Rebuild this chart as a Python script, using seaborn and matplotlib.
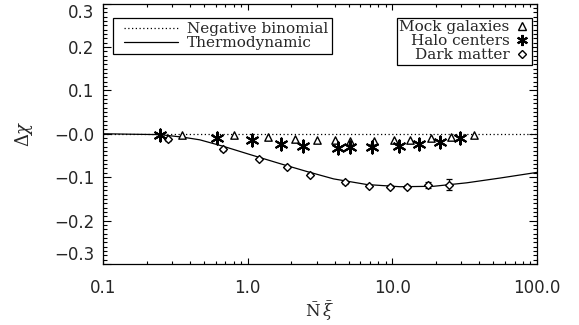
import numpy as np
import pandas as pd
import matplotlib
matplotlib.use("Agg")
import matplotlib.pyplot as plt
from matplotlib.lines import Line2D
from matplotlib.legend_handler import HandlerLine2D
from matplotlib.ticker import FixedLocator, FixedFormatter, LogLocator, NullFormatter, MultipleLocator
import seaborn as sns

# Negative binomial reference (flat at zero)
nb_x = [0.1, 100.0]
nb_y = [0.0, 0.0]

# Thermodynamic prediction
thermo_x = [0.1, 0.15, 0.248, 0.359, 0.467, 0.68, 1.04, 1.68, 2.57, 3.93, 6.68, 11.3, 19.3, 32.7, 55.6, 100.0]
thermo_y = [0.0, -0.001, -0.002, -0.008, -0.014, -0.029, -0.048, -0.069, -0.087, -0.104, -0.117, -0.122, -0.121, -0.113, -0.102, -0.089]

# Mock galaxies
mock_x = [0.35, 0.80, 1.39, 2.13, 3.01, 4.04, 5.07, 7.5, 10.3, 13.3, 18.5, 25.6, 36.5]
mock_y = [-0.003, -0.004, -0.008, -0.012, -0.015, -0.015, -0.017, -0.017, -0.015, -0.014, -0.010, -0.008, -0.002]

# Halo centers
halo_x = [0.248, 0.61, 1.07, 1.70, 2.41, 4.19, 5.12, 7.23, 11.2, 15.4, 21.5, 29.2]
halo_y = [-0.002, -0.009, -0.014, -0.023, -0.029, -0.033, -0.031, -0.031, -0.029, -0.023, -0.019, -0.009]

# Dark matter, with errors
dm_x = [0.283, 0.68, 1.20, 1.87, 2.68, 4.68, 6.90, 9.69, 12.6, 17.7, 24.5]
dm_y = [-0.013, -0.036, -0.058, -0.077, -0.094, -0.112, -0.120, -0.122, -0.122, -0.118, -0.117]
dm_err = [0.003, 0.003, 0.003, 0.003, 0.003, 0.003, 0.003, 0.003, 0.004, 0.007, 0.012]

xtick_vals = [0.1, 1.0, 10.0, 100.0]
xtick_labels = ["0.1", "1.0", "10.0", "100.0"]
ytick_vals = [-0.3, -0.2, -0.1, 0.0, 0.1, 0.2, 0.3]
ytick_labels = ["\u22120.3", "\u22120.2", "\u22120.1", "\u22120.0", "0.1", "0.2", "0.3"]

sns.set_theme(style="ticks")
plt.rcParams["font.family"] = ["DejaVu Sans"]
plt.rcParams["mathtext.fontset"] = "dejavuserif"

W, H = 579, 325
fig = plt.figure(figsize=(W / 100, H / 100), dpi=100)
ax = fig.add_axes([103 / W, 1 - 264 / H, 434 / W, 260.5 / H])

lw = 0.9
dotted = (0, (1, 2))
sns.lineplot(x=nb_x, y=nb_y, ax=ax, color="black", linestyle=dotted, linewidth=lw)
sns.lineplot(x=thermo_x, y=thermo_y, ax=ax, color="black", linewidth=lw)

ax.errorbar(dm_x, dm_y, yerr=dm_err, fmt="none", ecolor="black", elinewidth=0.9, capsize=2.5, capthick=0.9)
sns.scatterplot(x=dm_x, y=dm_y, ax=ax, marker="D", s=16, facecolor="white", edgecolor="black", linewidth=1.0, zorder=3)
sns.scatterplot(x=mock_x, y=mock_y, ax=ax, marker="^", s=28, facecolor="white", edgecolor="black", linewidth=1.0, zorder=3)
sns.scatterplot(x=halo_x, y=halo_y, ax=ax, marker=(6, 2, 0), s=75, color="black", linewidth=1.5, zorder=3)

ax.set_xscale("log")
ax.set_xlim(0.1, 100)
ax.set_ylim(-0.3, 0.3)
ax.xaxis.set_major_locator(FixedLocator(xtick_vals))
ax.xaxis.set_major_formatter(FixedFormatter(xtick_labels))
ax.xaxis.set_minor_locator(LogLocator(base=10, subs=np.arange(2, 10)))
ax.xaxis.set_minor_formatter(NullFormatter())
ax.yaxis.set_major_locator(FixedLocator(ytick_vals))
ax.yaxis.set_major_formatter(FixedFormatter(ytick_labels))
ax.yaxis.set_minor_locator(MultipleLocator(0.01))

for s in ax.spines.values():
    s.set_visible(True)
    s.set_linewidth(0.9)
    s.set_color("black")

ax.tick_params(which="both", direction="in", top=True, right=True, color="black", width=0.8)
ax.tick_params(axis="x", which="major", length=4.5, pad=11, labelsize=12)
ax.tick_params(axis="x", which="minor", length=2.3)
ax.tick_params(axis="y", which="major", length=5.5, pad=6, labelsize=12)
ax.tick_params(axis="y", which="minor", length=2.8)

# keep the end labels inside the frame
ylabels = ax.get_yticklabels()
ylabels[0].set_verticalalignment("bottom")
ylabels[-1].set_verticalalignment("top")

ax.set_xlabel(r"$\bar{\mathrm{N}}\,\bar{\xi}$", fontsize=12, labelpad=1)
ax.set_ylabel(r"$\Delta\chi$", fontsize=13, labelpad=14)

leg_font = {"family": "DejaVu Serif", "size": 11}
h1 = [Line2D([], [], color="black", linestyle=dotted, linewidth=lw),
      Line2D([], [], color="black", linewidth=lw)]
leg1 = ax.legend(h1, ["Negative binomial", "Thermodynamic"], loc="upper left",
                 bbox_to_anchor=(0.023, 0.944), borderaxespad=0, prop=leg_font,
                 frameon=True, fancybox=False, edgecolor="black", framealpha=1,
                 handlelength=4.0, handletextpad=0.6, labelspacing=0.0, borderpad=0.25,
                 handler_map={Line2D: HandlerLine2D(xpad=0.45)})
leg1.get_frame().set_linewidth(0.9)
ax.add_artist(leg1)

h2 = [Line2D([], [], linestyle="none", marker="^", markersize=6, markerfacecolor="white", markeredgecolor="black", markeredgewidth=1.0),
      Line2D([], [], linestyle="none", marker=(6, 2, 0), markersize=8, color="black", markeredgewidth=1.5),
      Line2D([], [], linestyle="none", marker="D", markersize=4.5, markerfacecolor="white", markeredgecolor="black", markeredgewidth=1.0)]
leg2 = ax.legend(h2, ["Mock galaxies", "Halo centers", "Dark matter"], loc="upper right",
                 bbox_to_anchor=(0.988, 0.944), borderaxespad=0, prop=leg_font,
                 frameon=True, fancybox=False, edgecolor="black", framealpha=1,
                 markerfirst=False, handlelength=1.0, handletextpad=0.3,
                 labelspacing=0.0, borderpad=0.15)
leg2.get_frame().set_linewidth(0.9)
for t in leg2.get_texts():
    t.set_ha("right")

fig.savefig("out.png", dpi=100, facecolor="white")
